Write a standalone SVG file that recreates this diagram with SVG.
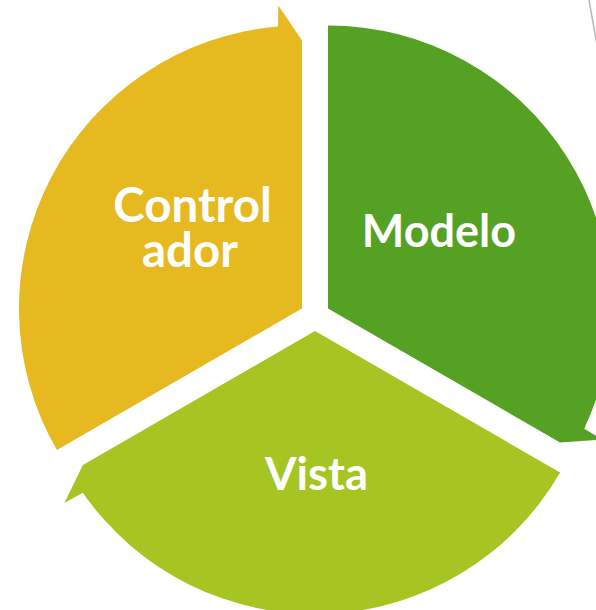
<svg xmlns="http://www.w3.org/2000/svg" width="596" height="610" viewBox="0 0 596 610">
  <defs>
    <style>
      .lbl { font-family: Lato, "Open Sans", "DejaVu Sans", sans-serif; font-weight: bold; fill: #FFFFFF; text-anchor: middle; }
    </style>
    <path id="seg" d="M 302 308.5 L 56.9 450 A 283 283 0 0 1 278 26.5 L 278.3 5.5 L 302 40.5 Z"/>
  </defs>
  <rect width="596" height="610" fill="#FFFFFF"/>
  <line x1="589" y1="0" x2="596.5" y2="42" stroke="#B8B8B8" stroke-width="1.5"/>
  <g id="controlador">
    <use href="#seg" fill="#E6B920"/>
    <text class="lbl" x="192.5" y="222" font-size="47.5">Control</text>
    <text class="lbl" x="190" y="267" font-size="47.5">ador</text>
  </g>
  <g id="modelo">
    <use href="#seg" fill="#55A124" transform="rotate(120 315 316)"/>
    <text class="lbl" x="439" y="247" font-size="45">Modelo</text>
  </g>
  <g id="vista">
    <use href="#seg" fill="#A6C422" transform="rotate(240 315 316)"/>
    <text class="lbl" x="316.5" y="490" font-size="45.5">Vista</text>
  </g>
  <g id="connectors"/>
</svg>
